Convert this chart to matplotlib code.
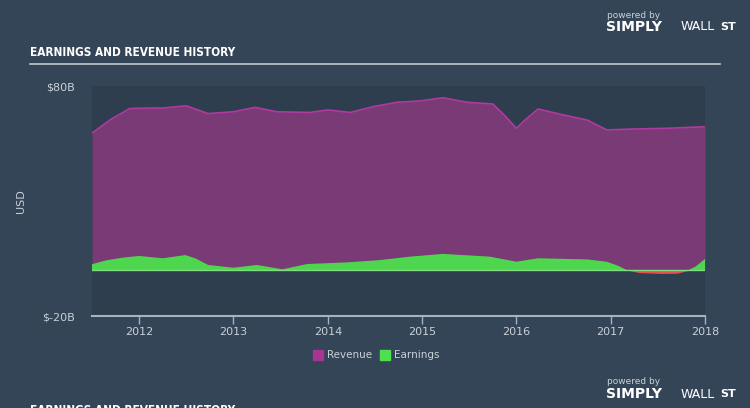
import matplotlib
matplotlib.use("Agg")
import matplotlib.pyplot as plt
import numpy as np

# revenue history (USD billions)
rev_years = [2011.5, 2011.7, 2011.9, 2012.1, 2012.25, 2012.5, 2012.73, 2013.0, 2013.23,
             2013.46, 2013.81, 2014.0, 2014.24, 2014.48, 2014.73, 2014.98, 2015.22,
             2015.48, 2015.75, 2015.88, 2016.0, 2016.1, 2016.23, 2016.5, 2016.75,
             2016.96, 2017.24, 2017.6, 2018.0]
revenue = [59.5, 65.5, 70.2, 70.4, 70.4, 71.4, 68.0, 68.8, 70.7,
           68.8, 68.5, 69.6, 68.5, 71.0, 72.9, 73.5, 74.9,
           72.9, 72.2, 67.0, 61.6, 65.5, 70.0, 67.4, 65.2,
           60.9, 61.3, 61.6, 62.3]

# earnings history (USD billions)
earn_years = [2011.5, 2011.65, 2011.83, 2012.0, 2012.25, 2012.49, 2012.6, 2012.73, 2013.0,
              2013.25, 2013.52, 2013.78, 2014.2, 2014.55, 2014.87, 2015.22, 2015.72,
              2016.0, 2016.23, 2016.75, 2016.96, 2017.08, 2017.17, 2017.3, 2017.53,
              2017.7, 2017.81, 2017.9, 2018.0]
earnings = [2.5, 4.2, 5.4, 6.1, 5.1, 6.5, 5.0, 2.2, 1.0,
            2.2, 0.3, 2.6, 3.3, 4.3, 5.8, 7.0, 5.8,
            3.6, 5.1, 4.6, 3.6, 1.8, 0.0, -1.1, -1.5,
            -1.4, -0.3, 1.5, 4.8]

year_ticks = [2012, 2013, 2014, 2015, 2016, 2017, 2018]
y_ticks = [-20, 80]
y_labels = ["$-20B", "$80B"]

fig_bg = "#344557"
ax_bg = "#2e3e4f"
txt = "#c9d1d9"
title_font = ["DejaVu Sans"]

fig = plt.figure(figsize=(7.5, 4.08), dpi=100)
fig.patch.set_facecolor(fig_bg)
ax = fig.add_axes([92/750, 1 - 316/408, (705 - 92)/750, (316 - 86)/408])
ax.set_facecolor(ax_bg)

ax.fill_between(rev_years, 0, revenue, color="#7a3a75", lw=0)
ax.plot(rev_years, revenue, color="#b03aa0", lw=1.2)

e = np.array(earnings)
ax.fill_between(earn_years, 0, e, where=e >= 0, interpolate=True, color="#4fd64f", lw=0)
ax.fill_between(earn_years, 0, e, where=e <= 0, interpolate=True, color="#e8504f", lw=0)
ax.axhline(0, color="#7fdc7f", lw=1.0)

ax.set_xlim(2011.5, 2018.0)
ax.set_ylim(-20, 80)
for s in ["top", "right", "left"]:
    ax.spines[s].set_visible(False)
ax.spines["bottom"].set_color("#a8b2bd")
ax.spines["bottom"].set_linewidth(1.5)
ax.set_xticks(year_ticks)
ax.set_xticklabels([str(y) for y in year_ticks], color=txt, fontsize=8)
ax.tick_params(axis="x", colors="#a8b2bd", length=6, width=1, pad=2, labelcolor=txt)
ax.set_yticks(y_ticks)
ax.set_yticklabels(y_labels, color=txt, fontsize=8)
ax.tick_params(axis="y", length=0, pad=12)
ax.set_ylabel("USD", color=txt, fontsize=8, labelpad=12)

# title and rule
fig.text(30/750, 1 - 53/408, "EARNINGS AND REVENUE HISTORY", color="white", fontsize=8.5,
         fontweight="bold", fontstretch="condensed", family=title_font, va="center")
fig.add_artist(plt.Line2D([30/750, 720/750], [1 - 64/408, 1 - 64/408], color="#c0c8d0", lw=1.2))

# cut-off title at the bottom edge (as in the original)
fig.text(30/750, 1 - 404/408, "EARNINGS AND REVENUE HISTORY", color="white", fontsize=8.5,
         fontweight="bold", fontstretch="condensed", family=title_font, va="top")

# legend
leg_y = 1 - 355/408
fig.patches.append(plt.Rectangle((313/750, leg_y - 0.012), 10/750, 10/408, color="#a8358f",
                                 transform=fig.transFigure, figure=fig))
fig.text(327/750, leg_y, "Revenue", color=txt, fontsize=7.5, va="center")
fig.patches.append(plt.Rectangle((380/750, leg_y - 0.012), 10/750, 10/408, color="#4fe04f",
                                 transform=fig.transFigure, figure=fig))
fig.text(394/750, leg_y, "Earnings", color=txt, fontsize=7.5, va="center")

# branding
for yb in [16, 383]:
    fig.text(607/750, 1 - (yb - 1)/408, "powered by", color="#c9d1d9", fontsize=6.5, va="center")
    fig.text(606/750, 1 - (yb + 11)/408, "SIMPLY", color="white", fontsize=10, fontweight="bold",
             va="center")
    fig.text(681/750, 1 - (yb + 11)/408, "WALL", color="white", fontsize=9, va="center")
    fig.text(720/750, 1 - (yb + 11)/408, "ST", color="white", fontsize=8, fontweight="bold",
             va="center")

fig.savefig("out.png", dpi=100, facecolor=fig_bg)
